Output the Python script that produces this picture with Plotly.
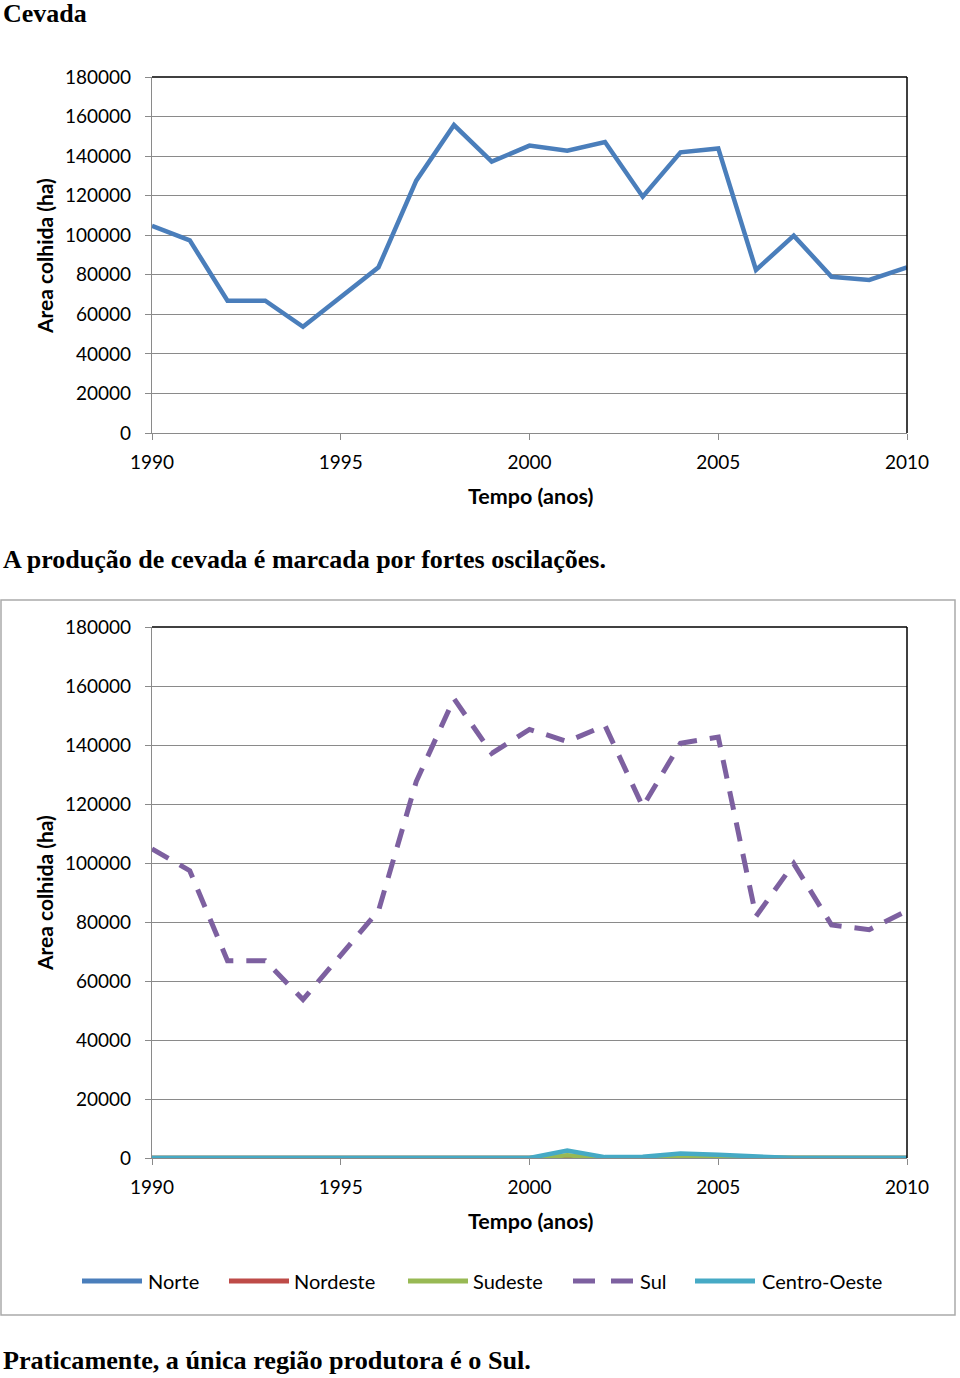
import plotly.graph_objects as go

W, H = 960, 1378

years = list(range(1990, 2011))
total = [104800, 97400, 66900, 66900, 53700, 68900, 83800, 127600, 155700, 137200,
         145300, 142700, 147100, 119500, 141900, 143900, 82400, 99800, 79000, 77400, 83800]
norte = [0] * 21
nordeste = [0] * 21
sudeste = [0, 0, 0, 0, 0, 0, 0, 0, 0, 0, 0, 900, 100, 200, 400, 300, 100, 0, 0, 0, 0]
sul = [104800, 97400, 66900, 66900, 53700, 68900, 83800, 127600, 155700, 137200,
       145300, 141200, 146600, 119100, 140600, 142700, 81900, 99800, 79000, 77400, 83800]
centro_oeste = [0, 0, 0, 0, 0, 0, 0, 0, 0, 0, 0, 2500, 300, 400, 1500, 1100, 500, 0, 0, 0, 0]

series = [
    ("Norte", norte, "#4A7EBB", "solid"),
    ("Nordeste", nordeste, "#BE4B48", "solid"),
    ("Sudeste", sudeste, "#98B954", "solid"),
    ("Sul", sul, "#7D60A0", "19px,13px"),
    ("Centro-Oeste", centro_oeste, "#46AAC5", "solid"),
]

y_ticks = list(range(0, 180001, 20000))
x_ticks = [1990, 1995, 2000, 2005, 2010]

GRID = "#8a8a8a"
FONT = "Lato"

def px_x(v):
    return v / W

def px_y(v):
    return 1 - v / H

fig = go.Figure()

fig.add_trace(go.Scatter(x=years, y=total, mode="lines", name="Total",
                         line=dict(color="#4A7EBB", width=4.5),
                         xaxis="x", yaxis="y", showlegend=False))
for name, vals, color, dash in series:
    fig.add_trace(go.Scatter(x=years, y=vals, mode="lines", name=name,
                             line=dict(color=color, width=5 if name == "Sul" else 4.5, dash=dash),
                             xaxis="x2", yaxis="y2", showlegend=False))

xl, xr = px_x(152), px_x(907)
axis_common_x = dict(range=[1990, 2010], tickvals=x_ticks, ticks="outside", ticklen=6,
                     tickcolor=GRID, tickwidth=1.3, showgrid=False, zeroline=False,
                     showline=True, linecolor=GRID, linewidth=1.3, automargin=False,
                     ticklabelstandoff=6,
                     tickfont=dict(family=FONT, size=19, color="#000"),
                     domain=[xl, xr], fixedrange=True)
axis_common_y = dict(range=[0, 180000], tickvals=y_ticks, tickformat="d", ticks="outside",
                     ticklen=6, tickcolor=GRID, tickwidth=1.3, showgrid=True,
                     gridcolor=GRID, gridwidth=1.3, zeroline=False, showline=True,
                     linecolor=GRID, linewidth=1.3, ticklabelstandoff=10, automargin=False,
                     tickfont=dict(family=FONT, size=19, color="#000"), fixedrange=True)

fig.update_layout(
    width=W, height=H, margin=dict(l=0, r=0, t=0, b=0, autoexpand=False),
    paper_bgcolor="white", plot_bgcolor="white", showlegend=False,
    xaxis=dict(**axis_common_x, anchor="y"),
    yaxis=dict(**axis_common_y, domain=[px_y(433), px_y(77)], anchor="x"),
    xaxis2=dict(**axis_common_x, anchor="y2"),
    yaxis2=dict(**axis_common_y, domain=[px_y(1158), px_y(627)], anchor="x2"),
)

shapes = []
# outer box around second chart
shapes.append(dict(type="rect", xref="paper", yref="paper", x0=px_x(1), x1=px_x(955),
                   y0=px_y(1315), y1=px_y(600), line=dict(color="#ababab", width=1.5)))
for xa, ya in (("x", "y"), ("x2", "y2")):
    shapes.append(dict(type="line", xref=f"{xa} domain", yref=f"{ya} domain", x0=0, x1=1,
                       y0=1, y1=1, line=dict(color="#000", width=1.5)))
    shapes.append(dict(type="line", xref=f"{xa} domain", yref=f"{ya} domain", x0=1, x1=1,
                       y0=0, y1=1, line=dict(color="#000", width=1.5)))

annotations = []
serif = "Liberation Serif"
annotations.append(dict(text="<b>Cevada</b>", x=px_x(1), y=1 + 3 / H, xref="paper", yref="paper",
                        xanchor="left", yanchor="top", showarrow=False,
                        font=dict(family=serif, size=26, color="#000")))
annotations.append(dict(text="<b>A produção de cevada é marcada por fortes oscilações.</b>",
                        x=px_x(1), y=px_y(559), xref="paper", yref="paper",
                        xanchor="left", yanchor="middle", showarrow=False,
                        font=dict(family=serif, size=26, color="#000")))
annotations.append(dict(text="<b>Praticamente, a única região produtora é o Sul.</b>",
                        x=px_x(1), y=px_y(1360), xref="paper", yref="paper",
                        xanchor="left", yanchor="middle", showarrow=False,
                        font=dict(family=serif, size=26.2, color="#000")))
for cy, ty in ((256, 496), (893, 1221)):
    annotations.append(dict(text="<b>Area colhida (ha)</b>", x=px_x(44), y=px_y(cy),
                            xref="paper", yref="paper", xanchor="center", yanchor="middle",
                            textangle=-90, showarrow=False,
                            font=dict(family=FONT, size=21, color="#000")))
    annotations.append(dict(text="<b>Tempo (anos)</b>", x=px_x(530), y=px_y(ty),
                            xref="paper", yref="paper", xanchor="center", yanchor="middle",
                            showarrow=False, font=dict(family=FONT, size=21.5, color="#000")))

# legend
legend_pos = [(82, 146), (229, 292), (408, 471), (573, 638), (695, 760)]
ly = px_y(1281)
for (name, vals, color, dash), (lx, tx) in zip(series, legend_pos):
    shapes.append(dict(type="line", xref="paper", yref="paper", x0=px_x(lx), x1=px_x(lx + 60),
                       y0=ly, y1=ly,
                       line=dict(color=color, width=5, dash="22px,16px" if name == "Sul" else "solid")))
    annotations.append(dict(text=name, x=px_x(tx), y=ly, xref="paper", yref="paper",
                            xanchor="left", yanchor="middle", showarrow=False,
                            font=dict(family=FONT, size=20, color="#000")))

fig.update_layout(shapes=shapes, annotations=annotations)

fig.write_html("out.html", config={"displayModeBar": False},
               post_script="document.body.style.margin='0';")
